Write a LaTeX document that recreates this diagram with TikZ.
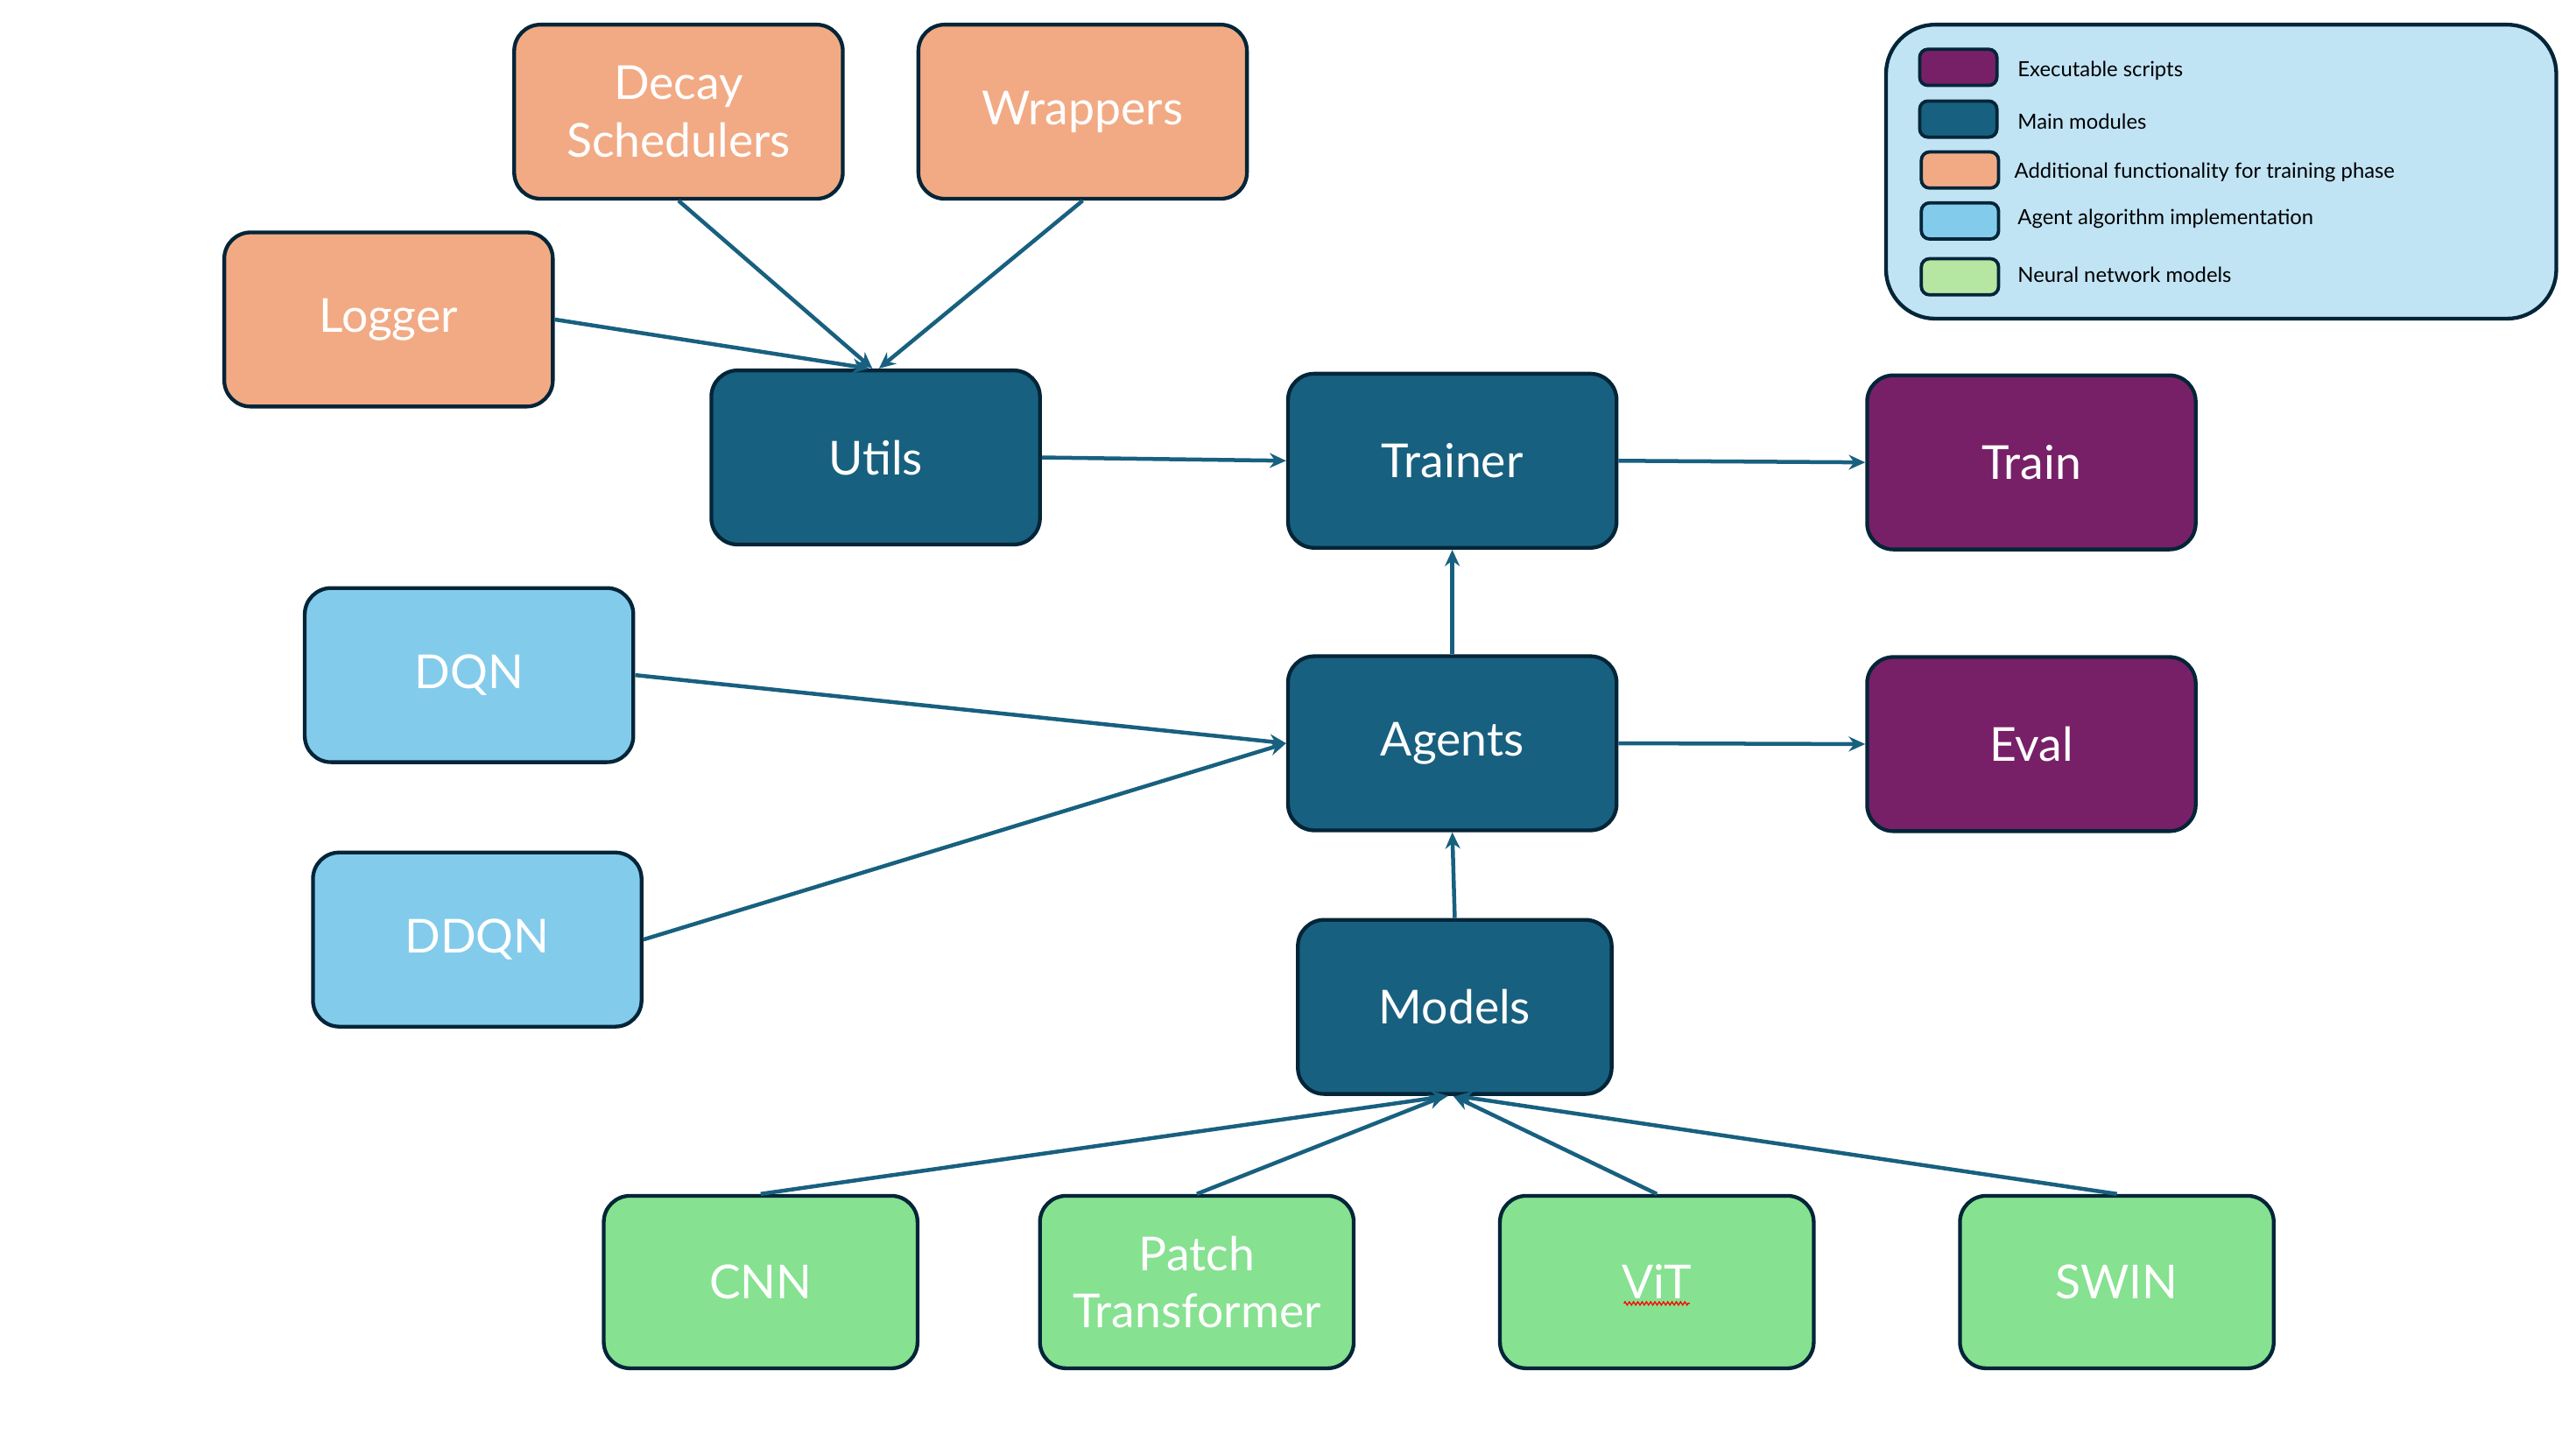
\documentclass[tikz,border=0pt]{standalone}
\usepackage{fontspec}
\setmainfont{Lato}
\usetikzlibrary{arrows.meta,decorations.pathmorphing}
\definecolor{mainblue}{HTML}{18607F}
\definecolor{bordercol}{HTML}{042538}
\definecolor{scriptpurple}{HTML}{772068}
\definecolor{addorange}{HTML}{F2AA84}
\definecolor{agentblue}{HTML}{83CBEB}
\definecolor{nngreen}{HTML}{86E190}
\definecolor{legbg}{HTML}{C1E4F5}
\definecolor{leggreen}{HTML}{B5E6A2}
\begin{document}
\begin{tikzpicture}[x=1pt,y=-1pt,
  box/.style={draw=bordercol, line width=2.3pt, rounded corners=16pt,
    minimum width=200pt, minimum height=106pt, text=white,
    font=\fontsize{28.5}{35}\selectfont, align=center, inner sep=0pt},
  mainbox/.style={box, fill=mainblue},
  scriptbox/.style={box, fill=scriptpurple},
  addbox/.style={box, fill=addorange},
  agentbox/.style={box, fill=agentblue},
  nnbox/.style={box, fill=nngreen, minimum width=191pt, minimum height=105pt},
  swatch/.style={draw=bordercol, line width=2pt, rounded corners=5pt,
    minimum width=47pt, minimum height=22pt, inner sep=0pt},
  legtext/.style={anchor=west, font=\fontsize{12.7}{15}\selectfont, text=black, inner sep=0pt},
  arr/.style={draw=mainblue, line width=2.4pt, -{Stealth[length=10pt,width=9pt]}}]
\useasboundingbox (0,0) rectangle (1568,877);

% legend
\node[draw=bordercol, line width=2.3pt, rounded corners=30pt, fill=legbg,
  minimum width=408pt, minimum height=179pt, inner sep=0pt] (legend) at (1352,104.5) {};
\node[swatch, fill=scriptpurple] (s1) at (1192,41) {};
\node[swatch, fill=mainblue] (s2) at (1192,72.5) {};
\node[swatch, fill=addorange] (s3) at (1193,103.5) {};
\node[swatch, fill=agentblue] (s4) at (1193,134.5) {};
\node[swatch, fill=leggreen] (s5) at (1193,168.5) {};
\node[legtext] (l1) at (1228,43) {Executable scripts};
\node[legtext] (l2) at (1228,74) {Main modules};
\node[legtext] (l3) at (1226,105) {Additional functionality for training phase};
\node[legtext] (l4) at (1228,133) {Agent algorithm implementation};
\node[legtext] (l5) at (1228,167) {Neural network models};

% nodes
\node[addbox] (decay) at (413,68) {Decay\\Schedulers};
\node[addbox] (wrap) at (659,68) {Wrappers};
\node[addbox] (logger) at (236.5,194.5) {Logger};
\node[mainbox] (utils) at (533,278.5) {Utils};
\node[mainbox] (trainer) at (884,280.5) {Trainer};
\node[scriptbox] (train) at (1236.5,281.5) {Train};
\node[agentbox] (dqn) at (285.5,411) {DQN};
\node[mainbox] (agents) at (884,452.5) {Agents};
\node[scriptbox] (eval) at (1236.5,453) {Eval};
\node[agentbox] (ddqn) at (290.5,572) {DDQN};
\node[mainbox, minimum width=191pt] (models) at (885.5,613) {Models};
\node[nnbox] (cnn) at (463,780.5) {CNN};
\node[nnbox] (patch) at (728.5,780.5) {Patch\\Transformer};
\node[nnbox] (vit) at (1008.5,780.5) {ViT};
\node[nnbox] (swin) at (1288.5,780.5) {SWIN};
\draw[red, line width=0.7pt, decorate, decoration={zigzag, segment length=2.6pt, amplitude=1pt}]
  ([xshift=-20pt,yshift=-13pt]vit.center) -- ([xshift=20pt,yshift=-13pt]vit.center);

% connectors
\draw[arr] (decay.south) -- ([xshift=-2pt]utils.north);
\draw[arr] (wrap.south) -- ([xshift=2pt]utils.north);
\draw[arr] (logger.east) -- ([xshift=-4pt]utils.north);
\draw[arr] (utils.east) -- (trainer.west);
\draw[arr] (trainer.east) -- (train.west);
\draw[arr] (agents.north) -- (trainer.south);
\draw[arr] (dqn.east) -- (agents.west);
\draw[arr] (ddqn.east) -- (agents.west);
\draw[arr] (agents.east) -- (eval.west);
\draw[arr] (models.north) -- (agents.south);
\draw[arr] (cnn.north) -- ([xshift=-4pt]models.south);
\draw[arr] (patch.north) -- ([xshift=-6pt]models.south);
\draw[arr] (vit.north) -- ([xshift=-1pt]models.south);
\draw[arr] (swin.north) -- ([xshift=1pt]models.south);
\end{tikzpicture}
\end{document}
